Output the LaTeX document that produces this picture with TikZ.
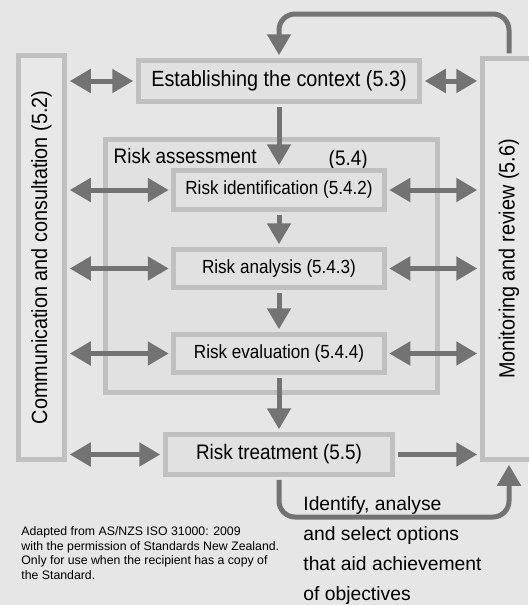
\documentclass[tikz,border=0pt]{standalone}
\usepackage{fontspec}
\setmainfont{Liberation Sans}
\newfontfamily\narrowfont{Liberation Sans}[FakeStretch=0.9]
\usepackage{graphicx}
\usetikzlibrary{arrows.meta}

\definecolor{bg}{HTML}{E6E6E6}
\definecolor{boxfill}{HTML}{E1E1E1}
\definecolor{sidefill}{HTML}{E8E8E8}
\definecolor{boxline}{HTML}{C0C0C0}
\definecolor{arrgray}{HTML}{737373}

\begin{document}
\begin{tikzpicture}[x=1pt, y=-1pt, thick,
        >={Triangle[length=21pt, width=23pt]},
        main/.style = {draw=boxline, line width=5pt, fill=boxfill, inner sep=0pt, font=\narrowfont\fontsize{19}{22}\selectfont},
        side/.style = {main, fill=sidefill, font=\narrowfont\fontsize{22}{26}\selectfont},
        arr/.style = {draw=arrgray, line width=5pt, shorten <=2.5pt, shorten >=2.5pt, ->},
        both/.style = {arr, <->}]
        \fill[bg] (0,0) rectangle (528,605);
        \useasboundingbox (0,0) rectangle (528,605);
        % side columns
        \node[side, minimum width=46.5pt, minimum height=404.5pt] (comm) at (41.5,257.5) {\rotatebox{90}{Communication and consultation (5.2)}};
        \node[side, minimum width=53.5pt, minimum height=401.5pt] (mon) at (509,259) {\rotatebox{90}{Monitoring and review (5.6)}};
        % main steps
        \node[main, font=\narrowfont\fontsize{22}{26}\selectfont, minimum width=281.5pt, minimum height=41.5pt] (ctx) at (279,81) {Establishing the context (5.3)};
        \node[main, minimum width=332.5pt, minimum height=253.5pt] (assess) at (271.5,266) {};
        \node[anchor=base west, font=\narrowfont\fontsize{21}{24}\selectfont] (assesslbl) at (110,163) {Risk assessment};
        \node[anchor=base west, font=\narrowfont\fontsize{21}{24}\selectfont] (assessnum) at (325,165) {(5.4)};
        \node[main, minimum width=210.5pt, minimum height=39.5pt] (ident) at (279,190) {Risk identification (5.4.2)};
        \node[main, minimum width=210.5pt, minimum height=38.5pt] (anal) at (279,268.5) {Risk analysis (5.4.3)};
        \node[main, minimum width=210.5pt, minimum height=38.5pt] (eval) at (279,353.5) {Risk evaluation (5.4.4)};
        \node[main, font=\narrowfont\fontsize{21}{24}\selectfont, minimum width=227.5pt, minimum height=40.5pt] (treat) at (279,454.5) {Risk treatment (5.5)};
        % text below
        \node[anchor=north west, align=left, inner sep=0pt, font=\fontsize{12.3}{14.7}\selectfont] (note) at (21,526) {Adapted from AS/NZS ISO 31000: 2009\\with the permission of Standards New Zealand.\\Only for use when the recipient has a copy of\\the Standard.};
        \node[anchor=north west, align=left, inner sep=0pt, font=\fontsize{19.3}{30}\selectfont] (opts) at (303,496) {Identify, analyse\\and select options\\that aid achievement\\of objectives};
        \coordinate (up) at (279,14);
        \coordinate (down) at (279,517);
        % flow down
        \draw[arr] (ctx.south) -- (ident.north);
        \draw[arr] (ident) -- (anal);
        \draw[arr] (anal) -- (eval);
        \draw[arr] (eval) -- (treat);
        % communication
        \draw[both] (comm.east |- ctx.west) -- (ctx.west);
        \draw[both] (comm.east |- ident.west) -- (ident.west);
        \draw[both] (comm.east |- anal.west) -- (anal.west);
        \draw[both] (comm.east |- eval.west) -- (eval.west);
        \draw[both] (comm.east |- treat.west) -- (treat.west);
        % monitoring
        \draw[both] (ctx.east) -- (ctx.east -| mon.west);
        \draw[both] (ident.east) -- (ident.east -| mon.west);
        \draw[both] (anal.east) -- (anal.east -| mon.west);
        \draw[both] (eval.east) -- (eval.east -| mon.west);
        \draw[arr] (treat.east) -- (treat.east -| mon.west);
        % loops
        \draw[arr, rounded corners=16pt] (mon.north) |- (up) -- (ctx.north);
        \draw[arr, rounded corners=16pt] (treat.south) -- (down) -| (mon.south);
\end{tikzpicture}
\end{document}
